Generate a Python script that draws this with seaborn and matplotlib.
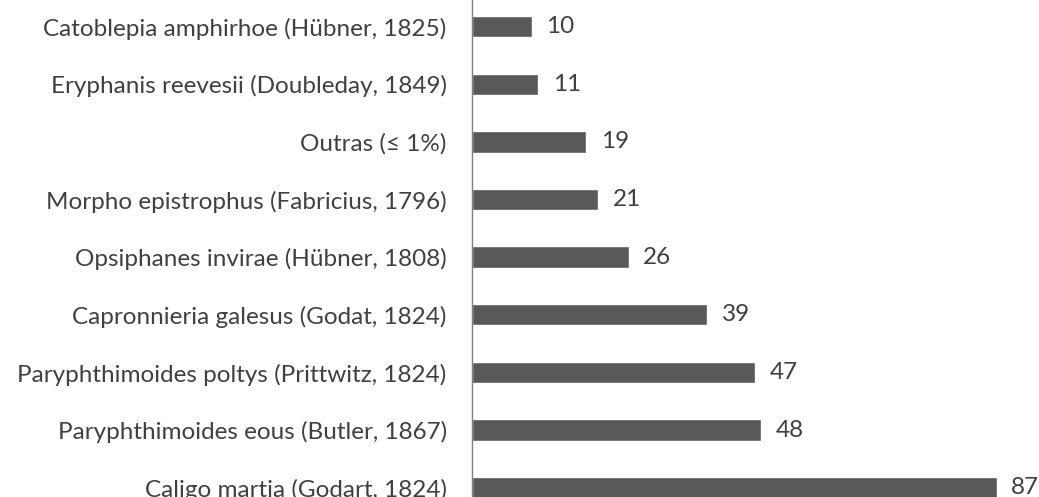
import numpy as np
import pandas as pd
import matplotlib.pyplot as plt
import seaborn as sns

species = [
    'Catoblepia amphirhoe (Hübner, 1825)',
    'Eryphanis reevesii (Doubleday, 1849)',
    'Outras (≤ 1%)',
    'Morpho epistrophus (Fabricius, 1796)',
    'Opsiphanes invirae (Hübner, 1808)',
    'Capronnieria galesus (Godat, 1824)',
    'Paryphthimoides poltys (Prittwitz, 1824)',
    'Paryphthimoides eous (Butler, 1867)',
    'Caligo martia (Godart, 1824)',
]
counts = [10, 11, 19, 21, 26, 39, 47, 48, 87]

df = pd.DataFrame({'species': species, 'n': counts})

sns.set_style('white')
plt.rcParams['font.family'] = ['Lato', 'DejaVu Sans']

fig = plt.figure(figsize=(10.39, 4.97), dpi=100)
ax = fig.add_axes([0.454, 0.0, 0.546, 1.0])
sns.barplot(data=df, x='n', y='species', color='#595959', width=0.37,
            saturation=1, ax=ax)

for i, v in enumerate(counts):
    ax.text(v + 2.4, i, str(v), va='center', ha='left', fontsize=17.5, color='#404040')

ax.set_xlim(0, 94)
ax.set_ylim(8.16, -0.46)
ax.set_xlabel('')
ax.set_ylabel('')
ax.set_xticks([])
ax.tick_params(axis='y', length=0, pad=18, labelsize=17.5, labelcolor='#404040')
for s in ['top', 'right', 'bottom']:
    ax.spines[s].set_visible(False)
ax.spines['left'].set_color('#808080')
ax.spines['left'].set_linewidth(1)

fig.savefig('out.png', dpi=100)
